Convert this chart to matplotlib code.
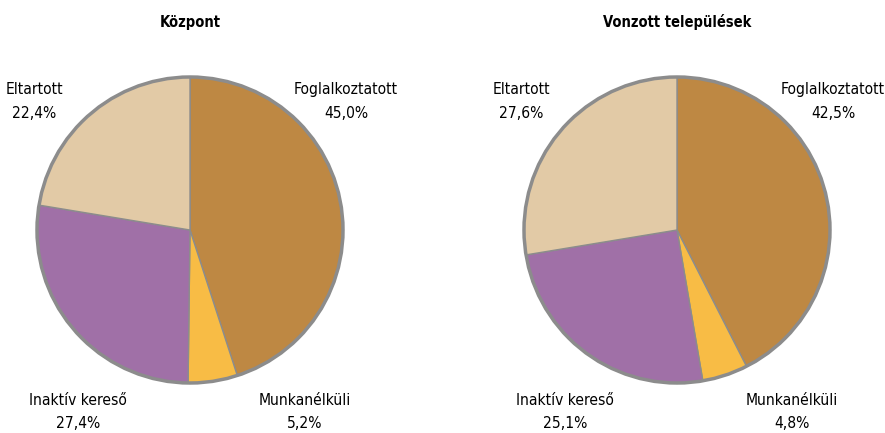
import matplotlib.pyplot as plt
from matplotlib.patches import Circle
from matplotlib import font_manager

categories = ['Foglalkoztatott', 'Munkanélküli', 'Inaktív kereső', 'Eltartott']
kozpont = [45.0, 5.2, 27.4, 22.4]
vonzott = [42.5, 4.8, 25.1, 27.6]
titles = ['Központ', 'Vonzott települések']

colors = ['#BE8843', '#F8BC45', '#A070A7', '#E2CAA6']
edge = '#8C8C8C'

names = {f.name for f in font_manager.fontManager.ttflist}
fam = [n for n in ['Liberation Sans Narrow', 'DejaVu Sans Condensed', 'DejaVu Sans'] if n in names]
plt.rcParams['font.family'] = fam
plt.rcParams['font.stretch'] = 'condensed'

fig = plt.figure(figsize=(8.85, 4.33), dpi=100)

# label offsets (in pie radius units) for each category
label_pos = {
    'Foglalkoztatott': (1.02, 0.84),
    'Munkanélküli': (0.75, -1.19),
    'Inaktív kereső': (-0.73, -1.19),
    'Eltartott': (-1.02, 0.84),
}

centers = [(190, 230), (677, 230)]
R = 153
half = 1.25 * R

for (cx, cy), title, vals in zip(centers, titles, [kozpont, vonzott]):
    ax = fig.add_axes([(cx - half) / 885, (433 - cy - half) / 433,
                       2 * half / 885, 2 * half / 433])
    ax.pie(vals, colors=colors, startangle=90, counterclock=False,
           wedgeprops=dict(edgecolor=edge, linewidth=1.0))
    ax.add_patch(Circle((0, 0), 1, fill=False, edgecolor=edge, linewidth=2.5))
    ax.set_xlim(-1.25, 1.25)
    ax.set_ylim(-1.25, 1.25)
    ax.set_aspect('equal')
    ax.axis('off')
    for cat, v in zip(categories, vals):
        x, y = label_pos[cat]
        ax.text(x, y, f'{cat}\n{v:.1f}%'.replace('.', ','), ha='center', va='center',
                fontsize=11.2, linespacing=1.7, clip_on=False)
    fig.text(cx / 885, 1 - 22 / 433, title, ha='center', va='center',
             fontsize=10.5, fontweight='bold')

plt.savefig('out.png', dpi=100)
